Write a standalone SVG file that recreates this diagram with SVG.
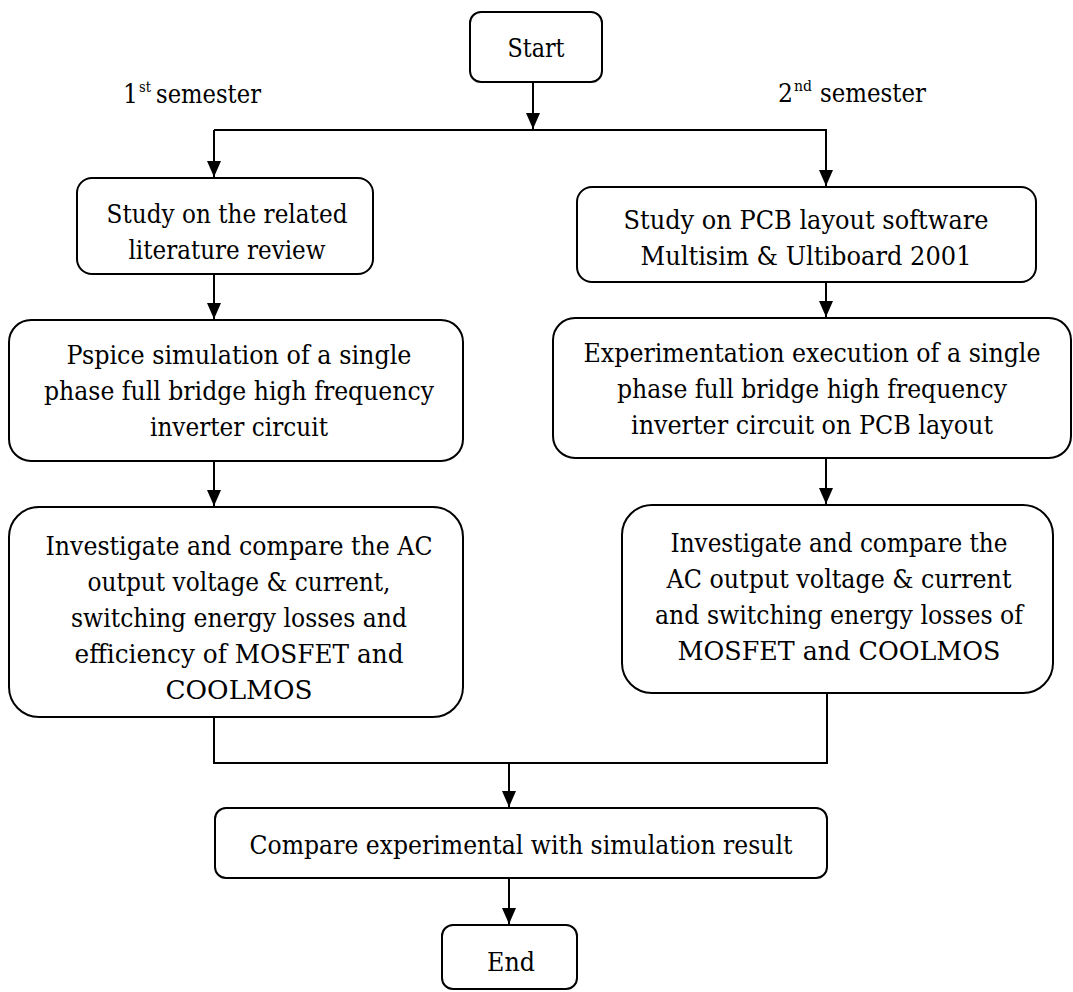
<svg xmlns="http://www.w3.org/2000/svg" width="1073" height="992" viewBox="0 0 1073 992">
<style>
.box{fill:#fff;stroke:#000;stroke-width:2}
.t{font-family:"DejaVu Serif",serif;font-size:26px;fill:#000;text-anchor:middle}
.lbl{font-family:"DejaVu Serif",serif;font-size:26px;fill:#000}
.sup{font-family:"DejaVu Serif",serif;font-size:15px;fill:#000}
.c{fill:none;stroke:#000;stroke-width:2}
</style>
<defs>
<marker id="arr" markerUnits="userSpaceOnUse" markerWidth="16" markerHeight="14" viewBox="0 0 16 14" refX="16" refY="7" orient="auto">
<path d="M0,0 L16,7 L0,14 Z" fill="#000"/>
</marker>
</defs>
<rect width="1073" height="992" fill="#fff"/>

<g id="connectors">
<path class="c" d="M533 82 V129" marker-end="url(#arr)"/>
<path class="c" d="M214 130 H827"/>
<path class="c" d="M214 130 V177" marker-end="url(#arr)"/>
<path class="c" d="M826 130 V186" marker-end="url(#arr)"/>
<path class="c" d="M214 274 V319" marker-end="url(#arr)"/>
<path class="c" d="M826 282 V317" marker-end="url(#arr)"/>
<path class="c" d="M214 461 V506" marker-end="url(#arr)"/>
<path class="c" d="M826 458 V504" marker-end="url(#arr)"/>
<path class="c" d="M214 717 V763 H827 V693"/>
<path class="c" d="M509 763 V807" marker-end="url(#arr)"/>
<path class="c" d="M509 878 V924" marker-end="url(#arr)"/>
</g>

<g id="label-sem1">
<text class="lbl" x="123" y="103" textLength="15" lengthAdjust="spacingAndGlyphs">1</text>
<text class="sup" x="139" y="92" textLength="12" lengthAdjust="spacingAndGlyphs">st</text>
<text class="lbl" x="156" y="103" textLength="105" lengthAdjust="spacingAndGlyphs">semester</text>
</g>
<g id="label-sem2">
<text class="lbl" x="778" y="102" textLength="15" lengthAdjust="spacingAndGlyphs">2</text>
<text class="sup" x="794" y="91" textLength="18" lengthAdjust="spacingAndGlyphs">nd</text>
<text class="lbl" x="820" y="102" textLength="106" lengthAdjust="spacingAndGlyphs">semester</text>
</g>

<g id="start">
<rect class="box" x="470" y="12" width="132" height="70" rx="11"/>
<text class="t" x="536" y="57" textLength="57" lengthAdjust="spacingAndGlyphs">Start</text>
</g>

<g id="lit-review">
<rect class="box" x="77" y="178" width="296" height="96" rx="15"/>
<text class="t" x="227" y="223" textLength="241" lengthAdjust="spacingAndGlyphs">Study on the related</text>
<text class="t" x="227" y="259" textLength="197" lengthAdjust="spacingAndGlyphs">literature review</text>
</g>

<g id="pspice">
<rect class="box" x="9" y="320" width="454" height="141" rx="22"/>
<text class="t" x="239" y="364" textLength="345" lengthAdjust="spacingAndGlyphs">Pspice simulation of a single</text>
<text class="t" x="239" y="400" textLength="390" lengthAdjust="spacingAndGlyphs">phase full bridge high frequency</text>
<text class="t" x="239" y="436" textLength="178" lengthAdjust="spacingAndGlyphs">inverter circuit</text>
</g>

<g id="investigate-sim">
<rect class="box" x="9" y="507" width="454" height="210" rx="30"/>
<text class="t" x="239" y="555" textLength="387" lengthAdjust="spacingAndGlyphs">Investigate and compare the AC</text>
<text class="t" x="239" y="591" textLength="303" lengthAdjust="spacingAndGlyphs">output voltage &amp; current,</text>
<text class="t" x="239" y="627" textLength="336" lengthAdjust="spacingAndGlyphs">switching energy losses and</text>
<text class="t" x="239" y="663" textLength="329" lengthAdjust="spacingAndGlyphs">efficiency of MOSFET and</text>
<text class="t" x="239" y="699" textLength="147" lengthAdjust="spacingAndGlyphs">COOLMOS</text>
</g>

<g id="pcb-study">
<rect class="box" x="577" y="187" width="459" height="95" rx="15"/>
<text class="t" x="806" y="229" textLength="365" lengthAdjust="spacingAndGlyphs">Study on PCB layout software</text>
<text class="t" x="806" y="265" textLength="331" lengthAdjust="spacingAndGlyphs">Multisim &amp; Ultiboard 2001</text>
</g>

<g id="experiment">
<rect class="box" x="553" y="318" width="518" height="140" rx="22"/>
<text class="t" x="812" y="362" font-size="24" textLength="457" lengthAdjust="spacingAndGlyphs">Experimentation execution of a single</text>
<text class="t" x="812" y="398" textLength="390" lengthAdjust="spacingAndGlyphs">phase full bridge high frequency</text>
<text class="t" x="812" y="434" textLength="362" lengthAdjust="spacingAndGlyphs">inverter circuit on PCB layout</text>
</g>

<g id="investigate-exp">
<rect class="box" x="622" y="505" width="431" height="188" rx="30"/>
<text class="t" x="839" y="552" textLength="337" lengthAdjust="spacingAndGlyphs">Investigate and compare the</text>
<text class="t" x="839" y="588" textLength="345" lengthAdjust="spacingAndGlyphs">AC output voltage &amp; current</text>
<text class="t" x="839" y="624" textLength="368" lengthAdjust="spacingAndGlyphs">and switching energy losses of</text>
<text class="t" x="839" y="660" textLength="323" lengthAdjust="spacingAndGlyphs">MOSFET and COOLMOS</text>
</g>

<g id="compare">
<rect class="box" x="215" y="808" width="612" height="70" rx="11"/>
<text class="t" x="521" y="854" textLength="543" lengthAdjust="spacingAndGlyphs">Compare experimental with simulation result</text>
</g>

<g id="end">
<rect class="box" x="442" y="925" width="135" height="64" rx="11"/>
<text class="t" x="511" y="971" textLength="48" lengthAdjust="spacingAndGlyphs">End</text>
</g>
</svg>
